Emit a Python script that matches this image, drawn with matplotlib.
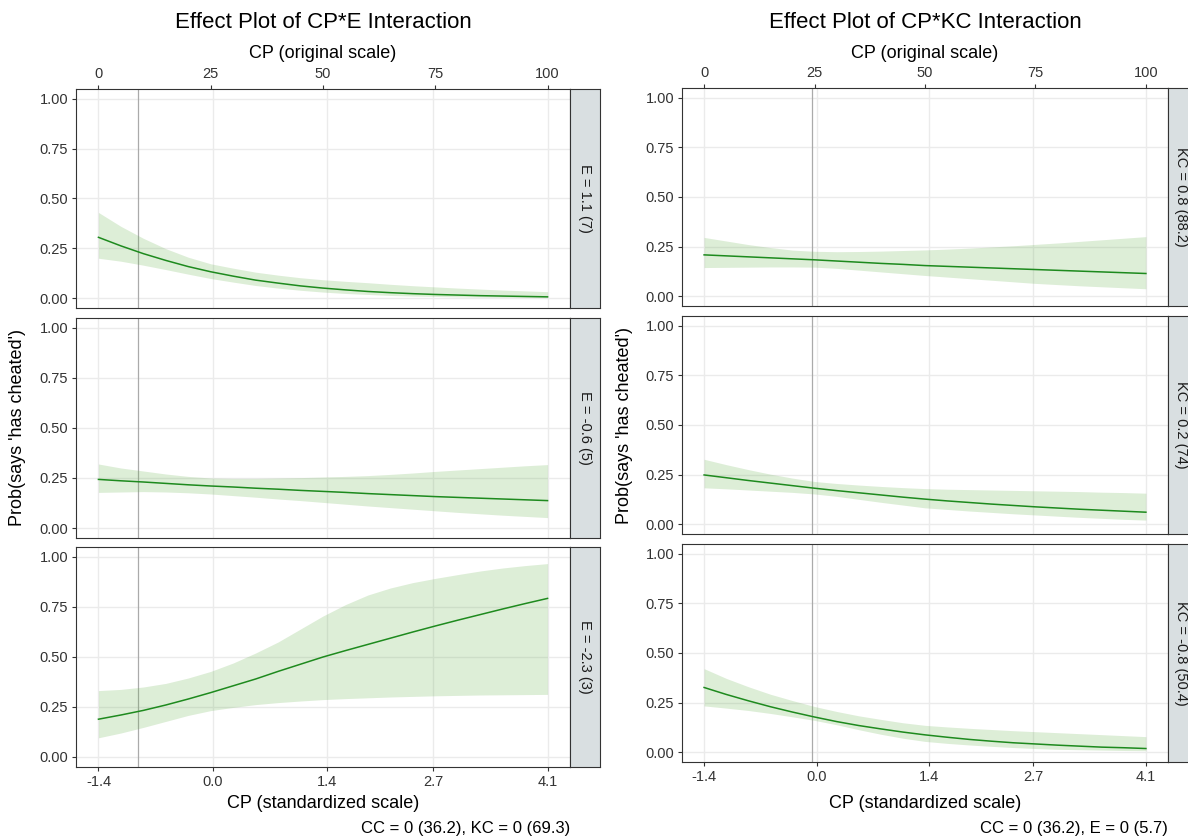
import numpy as np
import matplotlib
matplotlib.use("Agg")
import matplotlib.pyplot as plt

plt.rcParams['font.family'] = ['Liberation Sans', 'DejaVu Sans']

# Canvas size in pixels (dpi 100).
W, H = 1188, 839

# CP on its original scale; the standardized scale is (orig - mean) / sd.
CP_ORIG = [0, 5, 10, 15, 20, 25, 30, 35, 40, 45, 50, 55, 60, 65, 70, 75, 80, 85, 90, 95, 100]
CP_MEAN = 25.4545
CP_SD = 18.1818

ORIG_TICKS = [0, 25, 50, 75, 100]
STD_TICKS = [-1.4, 0.0, 1.4, 2.7, 4.1]
STD_LABELS = ['-1.4', '0.0', '1.4', '2.7', '4.1']
PROB_TICKS = [0, 0.25, 0.5, 0.75, 1.0]
PROB_LABELS = ['0.00', '0.25', '0.50', '0.75', '1.00']

# Left column: CP*E interaction, one row per level of E.
E_STRIPS = ['E = 1.1 (7)', 'E = -0.6 (5)', 'E = -2.3 (3)']
E_FIT = [
	[0.305, 0.262, 0.223, 0.189, 0.158, 0.132, 0.110, 0.090, 0.075, 0.061, 0.050,
	 0.041, 0.033, 0.027, 0.022, 0.018, 0.015, 0.012, 0.010, 0.008, 0.006],
	[0.243, 0.236, 0.230, 0.223, 0.216, 0.210, 0.205, 0.199, 0.194, 0.188, 0.183,
	 0.178, 0.172, 0.167, 0.162, 0.157, 0.153, 0.149, 0.145, 0.141, 0.137],
	[0.189, 0.210, 0.233, 0.260, 0.290, 0.322, 0.356, 0.390, 0.428, 0.464, 0.500,
	 0.532, 0.563, 0.594, 0.625, 0.655, 0.684, 0.712, 0.740, 0.767, 0.793],
]
E_LOWER = [
	[0.200, 0.185, 0.165, 0.143, 0.120, 0.098, 0.080, 0.063, 0.050, 0.039, 0.030,
	 0.023, 0.018, 0.013, 0.010, 0.008, 0.006, 0.005, 0.004, 0.003, 0.002],
	[0.178, 0.180, 0.182, 0.180, 0.176, 0.170, 0.162, 0.154, 0.145, 0.137, 0.128,
	 0.119, 0.110, 0.102, 0.094, 0.086, 0.078, 0.071, 0.064, 0.058, 0.052],
	[0.096, 0.120, 0.148, 0.178, 0.208, 0.232, 0.248, 0.262, 0.272, 0.280, 0.287,
	 0.292, 0.296, 0.300, 0.303, 0.306, 0.308, 0.310, 0.311, 0.312, 0.313],
]
E_UPPER = [
	[0.430, 0.360, 0.300, 0.248, 0.205, 0.172, 0.150, 0.130, 0.115, 0.102, 0.092,
	 0.084, 0.077, 0.069, 0.062, 0.056, 0.050, 0.045, 0.040, 0.036, 0.032],
	[0.320, 0.300, 0.285, 0.270, 0.258, 0.250, 0.248, 0.248, 0.250, 0.252, 0.255,
	 0.258, 0.262, 0.268, 0.275, 0.283, 0.290, 0.297, 0.304, 0.311, 0.317],
	[0.332, 0.338, 0.350, 0.368, 0.395, 0.428, 0.470, 0.520, 0.575, 0.640, 0.705,
	 0.762, 0.810, 0.845, 0.872, 0.893, 0.912, 0.930, 0.945, 0.957, 0.967],
]
E_REF = 8.9 # Reference line, original CP scale.

# Right column: CP*KC interaction, one row per level of KC.
KC_STRIPS = ['KC = 0.8 (88.2)', 'KC = 0.2 (74)', 'KC = -0.8 (50.4)']
KC_FIT = [
	[0.208, 0.203, 0.198, 0.193, 0.188, 0.183, 0.177, 0.171, 0.165, 0.160, 0.154,
	 0.150, 0.146, 0.142, 0.138, 0.134, 0.130, 0.126, 0.122, 0.118, 0.114],
	[0.248, 0.234, 0.220, 0.207, 0.194, 0.181, 0.169, 0.158, 0.147, 0.136, 0.126,
	 0.117, 0.109, 0.101, 0.094, 0.087, 0.081, 0.075, 0.070, 0.065, 0.060],
	[0.326, 0.291, 0.259, 0.229, 0.202, 0.177, 0.154, 0.134, 0.117, 0.101, 0.087,
	 0.075, 0.064, 0.055, 0.047, 0.041, 0.035, 0.030, 0.025, 0.022, 0.018],
]
KC_LOWER = [
	[0.144, 0.145, 0.146, 0.147, 0.147, 0.146, 0.140, 0.131, 0.122, 0.113, 0.104,
	 0.096, 0.088, 0.080, 0.072, 0.064, 0.058, 0.052, 0.047, 0.042, 0.037],
	[0.183, 0.178, 0.172, 0.166, 0.160, 0.152, 0.140, 0.125, 0.110, 0.096, 0.082,
	 0.074, 0.066, 0.059, 0.052, 0.046, 0.040, 0.034, 0.029, 0.024, 0.020],
	[0.233, 0.222, 0.210, 0.195, 0.178, 0.160, 0.138, 0.113, 0.090, 0.070, 0.054,
	 0.044, 0.036, 0.029, 0.023, 0.018, 0.014, 0.012, 0.010, 0.008, 0.007],
]
KC_UPPER = [
	[0.296, 0.278, 0.260, 0.245, 0.232, 0.226, 0.224, 0.225, 0.227, 0.230, 0.233,
	 0.237, 0.242, 0.248, 0.254, 0.261, 0.268, 0.276, 0.284, 0.292, 0.300],
	[0.327, 0.300, 0.275, 0.252, 0.232, 0.215, 0.205, 0.197, 0.190, 0.184, 0.179,
	 0.176, 0.174, 0.172, 0.170, 0.168, 0.166, 0.164, 0.161, 0.159, 0.156],
	[0.421, 0.372, 0.330, 0.292, 0.260, 0.230, 0.205, 0.183, 0.165, 0.148, 0.135,
	 0.127, 0.120, 0.114, 0.108, 0.103, 0.098, 0.093, 0.088, 0.083, 0.078],
]
KC_REF = 24.5

LINE_COL = '#1E8A1E'
BAND_COL = '#66B24C'
STRIP_COL = '#D9DFE1'
BORDER_COL = '#333333'
GRID_COL = '#EBEBEB'
TEXT_COL = '#1A1A1A'
TICK_COL = '#333333'


def to_std(x):
	return (np.asarray(x, dtype=float) - CP_MEAN) / CP_SD


def to_orig(s):
	return np.asarray(s, dtype=float) * CP_SD + CP_MEAN


def px_axes(fig, x0, y0, x1, y1):
	# Axes from pixel edges measured from the top-left corner.
	return fig.add_axes([x0 / W, 1 - y1 / H, (x1 - x0) / W, (y1 - y0) / H])


def draw_column(fig, left, right, rows, strip_w, title, strips, fits, lowers, uppers, ref, caption):
	xs = to_std(CP_ORIG)
	for i, (top, bottom) in enumerate(rows):
		ax = px_axes(fig, left, top, right, bottom)
		ax.fill_between(xs, lowers[i], uppers[i], color=BAND_COL, alpha=0.22, linewidth=0, zorder=2)
		ax.plot(xs, fits[i], color=LINE_COL, linewidth=1.1, zorder=3)
		ax.axvline(to_std(ref), color='#AAAAAA', linewidth=0.9, zorder=1.5)

		ax.set_xlim(to_std(-5), to_std(105))
		ax.set_ylim(-0.05, 1.05)
		ax.set_xticks(STD_TICKS)
		ax.set_yticks(PROB_TICKS)
		ax.set_yticklabels(PROB_LABELS)
		ax.grid(True, color=GRID_COL, linewidth=1.0, zorder=0)
		ax.set_axisbelow(True)
		for sp in ax.spines.values():
			sp.set_color(BORDER_COL)
			sp.set_linewidth(0.8)
		ax.tick_params(axis='both', length=3, width=0.8, color=TICK_COL, labelcolor=TICK_COL, labelsize=10.5, pad=2.5)

		if i == len(rows) - 1:
			ax.set_xticklabels(STD_LABELS)
		else:
			ax.tick_params(axis='x', bottom=False, labelbottom=False)

		if i == 0:
			sec = ax.secondary_xaxis('top', functions=(to_orig, to_std))
			sec.set_xticks(ORIG_TICKS)
			sec.tick_params(length=3, width=0.8, color=TICK_COL, labelcolor=TICK_COL, labelsize=10.5, pad=2.5)
			sec.spines['top'].set_visible(False)

		# Facet strip on the right of each panel.
		st = px_axes(fig, right, top, right + strip_w, bottom)
		st.set_facecolor(STRIP_COL)
		st.set_xticks([])
		st.set_yticks([])
		for sp in st.spines.values():
			sp.set_color(BORDER_COL)
			sp.set_linewidth(0.8)
		st.text(0.5, 0.5, strips[i], rotation=-90, ha='center', va='center', fontsize=10.5, color=TEXT_COL, transform=st.transAxes)

	mid = (left + right) / 2
	fig.text(mid / W, 1 - 22 / H, title, ha='center', va='center', fontsize=16, color='black')
	fig.text(mid / W, 1 - 53 / H, 'CP (original scale)', ha='center', va='center', fontsize=13, color='black')
	fig.text(mid / W, 1 - 803 / H, 'CP (standardized scale)', ha='center', va='center', fontsize=13, color='black')
	fig.text(right / W, 1 - 829 / H, caption, ha='right', va='center', fontsize=12, color='black')
	fig.text((left - 58) / W, 1 - ((rows[0][0] + rows[-1][1]) / 2) / H, "Prob(says 'has cheated')", rotation=90, ha='center', va='center', fontsize=13, color='black')


def main():
	fig = plt.figure(figsize=(W / 100, H / 100), dpi=100)
	fig.patch.set_facecolor('white')

	draw_column(fig, 76, 570, [(89, 308), (318, 538), (547, 767)], 30,
		'Effect Plot of CP*E Interaction', E_STRIPS, E_FIT, E_LOWER, E_UPPER, E_REF,
		'CC = 0 (36.2), KC = 0 (69.3)')
	draw_column(fig, 682, 1168, [(88, 306), (316, 534), (544, 762)], 26,
		'Effect Plot of CP*KC Interaction', KC_STRIPS, KC_FIT, KC_LOWER, KC_UPPER, KC_REF,
		'CC = 0 (36.2), E = 0 (5.7)')

	fig.savefig('out.png', dpi=100)


if __name__ == "__main__":
	main()
